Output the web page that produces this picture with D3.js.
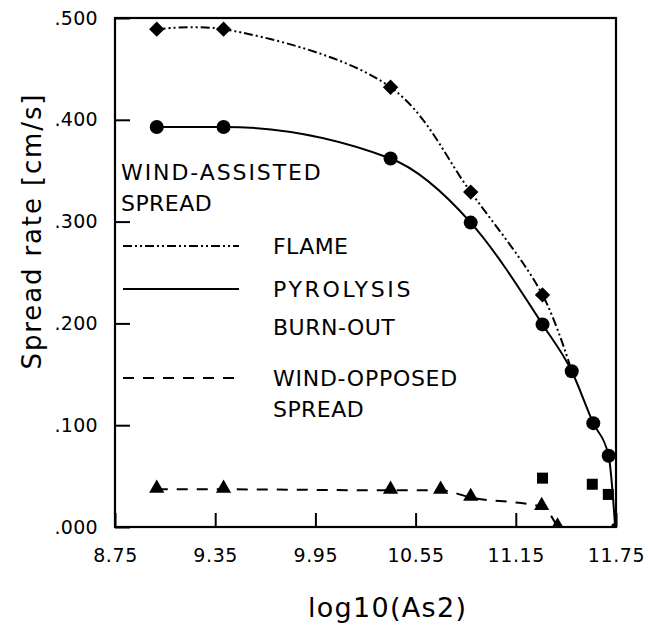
<!DOCTYPE html>
<html>
<head>
<meta charset="utf-8">
<script src="https://cdn.jsdelivr.net/npm/d3@7"></script>
<style>
  html, body { margin: 0; padding: 0; background: #fff; }
  svg { display: block; }
</style>
</head>
<body>
<div id="chart"></div>
<script>
// Spread rate vs log10(As2)

// x values (log10 As2) and spread rates [cm/s]
var flameX     = [9.00, 9.40, 10.40, 10.88, 11.31, 11.485];
var flameY     = [0.489, 0.489, 0.432, 0.329, 0.228, 0.153];
var flameMarks = 5; // diamonds only on the first five points

var pyroX = [9.00, 9.40, 10.40, 10.88, 11.31, 11.485, 11.614, 11.706, 11.745];
var pyroY = [0.393, 0.393, 0.362, 0.299, 0.199, 0.153, 0.102, 0.070, 0.000];

var burnX = [11.31, 11.608, 11.704];
var burnY = [0.048, 0.042, 0.032];

var opposedX = [9.00, 9.40, 10.40, 10.70, 10.88, 11.305, 11.40];
var opposedY = [0.037, 0.037, 0.036, 0.036, 0.029, 0.020, 0.000];

var xTicks = [8.75, 9.35, 9.95, 10.55, 11.15, 11.75];
var yTicks = [0, 0.1, 0.2, 0.3, 0.4, 0.5];

var legendItems = [
  { label: "FLAME",     dash: "9,3,2,3,2,3" },
  { label: "PYROLYSIS", dash: null },
  { label: "BURN-OUT",  dash: "none" }
];

// ── layout ──────────────────────────────────────────────────────────────
var W = 648, H = 630;
var L = 115, R = 616, T = 18, B = 527;

var svg = d3.select("#chart").append("svg").attr("width", W).attr("height", H);

var x = d3.scaleLinear().domain([8.75, 11.75]).range([L, R]);
var y = d3.scaleLinear().domain([0, 0.5]).range([B, T]);

svg.append("clipPath").attr("id", "plot-clip")
  .append("rect").attr("x", L).attr("y", T).attr("width", R - L).attr("height", B - T);

var tickFont = "'DejaVu Sans', sans-serif";
var plotFont = "'DejaVu Sans', sans-serif";

// x axis: ticks point inward
var xAxis = svg.append("g").attr("transform", "translate(0," + B + ")")
  .call(d3.axisBottom(x).tickValues(xTicks).tickSize(-14).tickPadding(22)
    .tickFormat(d3.format(".2f")));
xAxis.select(".domain").remove();
xAxis.selectAll("line").attr("stroke", "#000").attr("stroke-width", 2);
xAxis.selectAll("text").attr("font-family", tickFont).attr("font-size", "19px")
  .attr("fill", "#000").attr("letter-spacing", "0.6px");

// y axis
var fmtY = function (d) { return d3.format(".3f")(d).replace(/^0/, ""); };
var yAxis = svg.append("g").attr("transform", "translate(" + L + ",0)")
  .call(d3.axisLeft(y).tickValues(yTicks).tickSize(-15).tickPadding(17).tickFormat(fmtY));
yAxis.select(".domain").remove();
yAxis.selectAll("line").attr("stroke", "#000").attr("stroke-width", 2);
yAxis.selectAll("text").attr("font-family", tickFont).attr("font-size", "19px")
  .attr("fill", "#000").attr("letter-spacing", "0.3px");

// frame
svg.append("rect").attr("x", L).attr("y", T).attr("width", R - L).attr("height", B - T)
  .attr("fill", "none").attr("stroke", "#000").attr("stroke-width", 2.2);

// axis titles
svg.append("text")
  .attr("transform", "translate(41," + 232 + ") rotate(-90)")
  .attr("text-anchor", "middle")
  .attr("font-family", tickFont).attr("font-size", "26px")
  .attr("textLength", 275).attr("lengthAdjust", "spacing")
  .text("Spread rate [cm/s]");

svg.append("text")
  .attr("x", 387).attr("y", 617)
  .attr("text-anchor", "middle")
  .attr("font-family", tickFont).attr("font-size", "27px")
  .attr("textLength", 158).attr("lengthAdjust", "spacing")
  .text("log10(As2)");

// ── curves ──────────────────────────────────────────────────────────────
function pts(xs, ys) { return xs.map(function (v, i) { return [v, ys[i]]; }); }

var line = d3.line()
  .x(function (d) { return x(d[0]); })
  .y(function (d) { return y(d[1]); })
  .curve(d3.curveMonotoneX);

var smooth = d3.line()
  .x(function (d) { return x(d[0]); })
  .y(function (d) { return y(d[1]); })
  .curve(d3.curveCatmullRom.alpha(0.5));

var plot = svg.append("g").attr("clip-path", "url(#plot-clip)");

plot.append("path").datum(pts(flameX, flameY))
  .attr("d", smooth).attr("fill", "none").attr("stroke", "#000")
  .attr("stroke-width", 2).attr("stroke-dasharray", "9,3,2,3,2,3");

plot.append("path").datum(pts(pyroX, pyroY))
  .attr("d", line).attr("fill", "none").attr("stroke", "#000").attr("stroke-width", 2);

plot.append("path").datum(pts(opposedX, opposedY))
  .attr("d", line).attr("fill", "none").attr("stroke", "#000")
  .attr("stroke-width", 2).attr("stroke-dasharray", "11,9");

// ── markers ─────────────────────────────────────────────────────────────
var diamond = d3.symbol().type(d3.symbolDiamond2).size(150);
var triangle = d3.symbol().type(d3.symbolTriangle).size(100);

plot.selectAll(".flame").data(pts(flameX, flameY).slice(0, flameMarks)).join("path")
  .attr("class", "flame")
  .attr("transform", function (d) { return "translate(" + x(d[0]) + "," + y(d[1]) + ")"; })
  .attr("d", diamond).attr("fill", "#000");

plot.selectAll(".pyro").data(pts(pyroX, pyroY)).join("circle")
  .attr("class", "pyro")
  .attr("cx", function (d) { return x(d[0]); })
  .attr("cy", function (d) { return y(d[1]); })
  .attr("r", function (d) { return d[1] === 0 ? 4 : 7; })
  .attr("fill", "#000");

plot.selectAll(".burn").data(pts(burnX, burnY)).join("rect")
  .attr("class", "burn")
  .attr("x", function (d) { return x(d[0]) - 5.5; })
  .attr("y", function (d) { return y(d[1]) - 5.5; })
  .attr("width", 11).attr("height", 11)
  .attr("fill", "#000");

plot.selectAll(".opp").data(pts(opposedX, opposedY)).join("path")
  .attr("class", "opp")
  .attr("transform", function (d) { return "translate(" + x(d[0]) + "," + (y(d[1]) - 1) + ")"; })
  .attr("d", triangle).attr("fill", "#000");

// ── in-plot legend (plotter lettering) ─────────────────────────────────
function label(tx, ty, s) {
  svg.append("text").attr("x", tx).attr("y", ty)
    .attr("font-family", plotFont).attr("font-size", "22px")
    .attr("textLength", s.length * 15.6 - 3).attr("lengthAdjust", "spacing")
    .text(s);
}

label(121, 180, "WIND-ASSISTED");
label(121, 211, "SPREAD");

var legY = [246, 289, 327];
legendItems.forEach(function (it, i) {
  if (it.dash !== "none") {
    svg.append("line").attr("x1", 123).attr("x2", 239)
      .attr("y1", legY[i]).attr("y2", legY[i])
      .attr("stroke", "#000").attr("stroke-width", 2)
      .attr("stroke-dasharray", it.dash);
  }
  label(273, legY[i] + 8, it.label);
});

svg.append("line").attr("x1", 123).attr("x2", 239).attr("y1", 378).attr("y2", 378)
  .attr("stroke", "#000").attr("stroke-width", 2).attr("stroke-dasharray", "11,9");
label(273, 386, "WIND-OPPOSED");
label(273, 417, "SPREAD");
</script>
</body>
</html>
